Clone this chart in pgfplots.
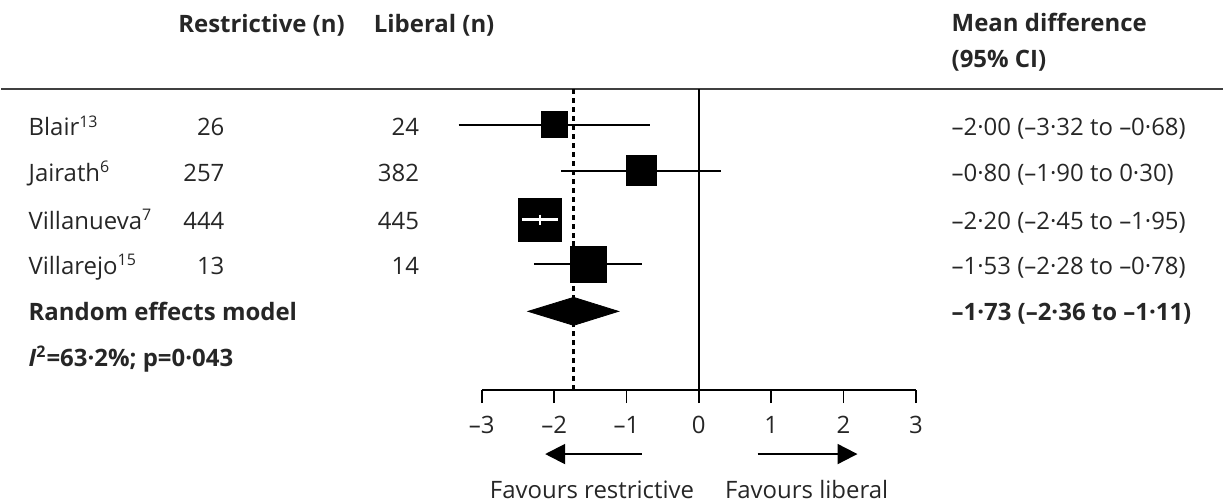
\documentclass[border=0pt]{standalone}
\usepackage{pgfplots}
\pgfplotsset{compat=1.18}
\usepackage{fontspec}
\setmainfont{Open Sans}
\usetikzlibrary{arrows.meta}
\newcommand\fs{\fontsize{12}{14}\selectfont}
\tikzset{txt/.style={inner sep=0pt, font=\fs, text=black!85},
         btxt/.style={inner sep=0pt, font=\fs\bfseries, text=black!85}}
\begin{document}
\begin{tikzpicture}
\begin{axis}[
  scale only axis, width=217.5pt, height=151pt,
  xmin=-3, xmax=3, ymin=-391, ymax=-89,
  axis x line=bottom, axis y line=none,
  x axis line style={-, line width=0.9pt},
  tick align=outside, major tick length=6.5pt,
  every tick/.style={black, line width=0.9pt},
  xtick={-3,-2,-1,0,1,2,3},
  xticklabels={–3,–2,–1,0,1,2,3},
  xticklabel style={font=\fs, text=black!85, yshift=-3pt},
  clip=false,
]
% bounding box
\path (axis cs:-9.6414,0) rectangle (axis cs:7.2414,-504);
% header rule
\draw[line width=1.3pt, black!75] (axis cs:-9.6414,-89) -- (axis cs:7.2414,-89);
% reference lines
\addplot[black, line width=1pt] coordinates {(0,-391) (0,-89)};
\addplot[black, line width=1.2pt, dash pattern=on 2.5pt off 2pt] coordinates {(-1.73,-391) (-1.73,-89)};
% confidence intervals
\addplot[black, line width=1pt] coordinates {(-3.32,-125) (-0.68,-125)};
\addplot[black, line width=1pt] coordinates {(-1.90,-171) (0.30,-171)};
\addplot[black, line width=1pt] coordinates {(-2.28,-265) (-0.78,-265)};
% squares (weights)
\addplot[only marks, mark=square*, mark size=6.5pt, black] coordinates {(-2.00,-125)};
\addplot[only marks, mark=square*, mark size=7.5pt, black] coordinates {(-0.80,-171)};
\addplot[only marks, mark=square*, mark size=10.75pt, black] coordinates {(-2.20,-220)};
\addplot[only marks, mark=square*, mark size=9pt, black] coordinates {(-1.53,-265)};
% Villanueva CI (-2.45 to -1.95) inside its square, half-width 0.25 units = 9.06pt
\addplot[only marks, mark=-, mark size=9.06pt, mark options={draw=white, line width=1.2pt}] coordinates {(-2.20,-220)};
\addplot[only marks, mark=|, mark size=2.5pt, mark options={draw=white, line width=1pt}] coordinates {(-2.20,-220)};
% pooled diamond
\addplot[fill=black, draw=black] coordinates {(-2.36,-312) (-1.73,-298) (-1.11,-312) (-1.73,-326)} -- cycle;
% headers
\node[btxt, anchor=base west] at (axis cs:-7.200,-33) {Restrictive (n)};
\node[btxt, anchor=base west] at (axis cs:-4.497,-33) {Liberal (n)};
\node[btxt, anchor=base west] at (axis cs:3.490,-32) {Mean difference};
\node[btxt, anchor=base west] at (axis cs:3.490,-68) {(95\% CI)};
% study names
\node[txt, anchor=base west] at (axis cs:-9.269,-136) {Blair\textsuperscript{13}};
\node[txt, anchor=base west] at (axis cs:-9.269,-182) {Jairath\textsuperscript{6}};
\node[txt, anchor=base west] at (axis cs:-9.269,-230) {Villanueva\textsuperscript{7}};
\node[txt, anchor=base west] at (axis cs:-9.269,-275) {Villarejo\textsuperscript{15}};
\node[btxt, anchor=base west] at (axis cs:-9.269,-321) {Random effects model};
\node[btxt, anchor=base west] at (axis cs:-9.269,-367) {\textit{I}\textsuperscript{2}=63·2\%; p=0·043};
% n restrictive
\node[txt, anchor=base east] at (axis cs:-6.552,-136) {26};
\node[txt, anchor=base east] at (axis cs:-6.552,-182) {257};
\node[txt, anchor=base east] at (axis cs:-6.552,-230) {444};
\node[txt, anchor=base east] at (axis cs:-6.552,-275) {13};
% n liberal
\node[txt, anchor=base east] at (axis cs:-3.862,-136) {24};
\node[txt, anchor=base east] at (axis cs:-3.862,-182) {382};
\node[txt, anchor=base east] at (axis cs:-3.862,-230) {445};
\node[txt, anchor=base east] at (axis cs:-3.862,-275) {14};
% mean differences
\node[txt, anchor=base west] at (axis cs:3.490,-136) {–2·00 (–3·32 to –0·68)};
\node[txt, anchor=base west] at (axis cs:3.490,-182) {–0·80 (–1·90 to 0·30)};
\node[txt, anchor=base west] at (axis cs:3.490,-230) {–2·20 (–2·45 to –1·95)};
\node[txt, anchor=base west] at (axis cs:3.490,-275) {–1·53 (–2·28 to –0·78)};
\node[btxt, anchor=base west] at (axis cs:3.490,-321) {–1·73 (–2·36 to –1·11)};
% favours arrows
\draw[line width=1pt, -{Triangle[length=10pt, width=10pt]}] (axis cs:-0.786,-455) -- (axis cs:-2.124,-455);
\draw[line width=1pt, -{Triangle[length=10pt, width=10pt]}] (axis cs:0.814,-455) -- (axis cs:2.193,-455);
\node[txt, anchor=base] at (axis cs:-1.476,-500) {Favours restrictive};
\node[txt, anchor=base] at (axis cs:1.490,-500) {Favours liberal};
\end{axis}
\end{tikzpicture}
\end{document}
